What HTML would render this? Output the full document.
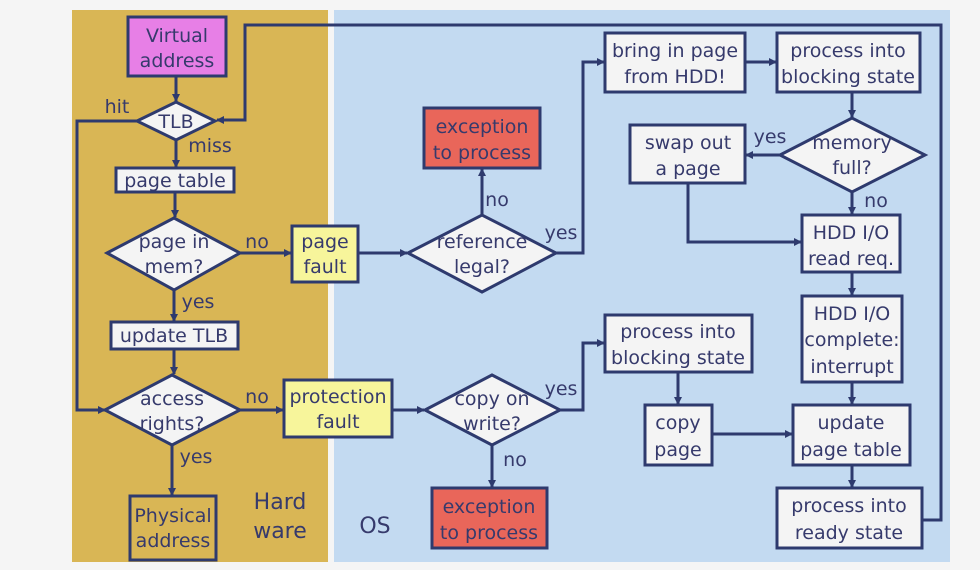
<!DOCTYPE html>
<html><head><meta charset="utf-8"><style>
html,body{margin:0;padding:0;background:#f5f5f5;}
svg{display:block}
text{font-family:"DejaVu Sans","Liberation Sans",sans-serif;fill:#363a6c;font-size:19px;text-anchor:middle}
.b{fill:#f4f4f4;stroke:#2e3a6e;stroke-width:3}
.l{fill:none;stroke:#2e3a6e;stroke-width:3}
</style></head><body>
<svg width="980" height="570" viewBox="0 0 980 570">
<defs><marker id="a" markerWidth="8" markerHeight="8" refX="7" refY="4" orient="auto" markerUnits="userSpaceOnUse"><path d="M0,0 L8,4 L0,8 z" fill="#2e3a6e"/></marker></defs>
<rect x="0" y="0" width="980" height="570" fill="#f5f5f5"/>
<rect x="72" y="10" width="256" height="552" fill="#d9b655"/>
<rect x="334" y="10" width="616" height="552" fill="#c3daf1"/>
<path class="l" d="M922,520 H941 V25 H245 V120 H217" marker-end="url(#a)"/>
<path class="l" d="M137,121 H77 V410 H105" marker-end="url(#a)"/>
<path class="l" d="M176,76 V101" marker-end="url(#a)"/>
<path class="l" d="M176,140 V167" marker-end="url(#a)"/>
<path class="l" d="M175,192 V217" marker-end="url(#a)"/>
<path class="l" d="M174,290 V321" marker-end="url(#a)"/>
<path class="l" d="M174,349 V374" marker-end="url(#a)"/>
<path class="l" d="M172,445 V495" marker-end="url(#a)"/>
<path class="l" d="M240,253 H291" marker-end="url(#a)"/>
<path class="l" d="M240,410 H283" marker-end="url(#a)"/>
<path class="l" d="M358,253 H407" marker-end="url(#a)"/>
<path class="l" d="M392,410 H424" marker-end="url(#a)"/>
<path class="l" d="M482,215 V169" marker-end="url(#a)"/>
<path class="l" d="M556,253 H583 V62 H604" marker-end="url(#a)"/>
<path class="l" d="M560,410 H583 V343 H604" marker-end="url(#a)"/>
<path class="l" d="M492,445 V487" marker-end="url(#a)"/>
<path class="l" d="M745,62 H776" marker-end="url(#a)"/>
<path class="l" d="M852,92 V117" marker-end="url(#a)"/>
<path class="l" d="M780,155 H746" marker-end="url(#a)"/>
<path class="l" d="M688,183 V242 H801" marker-end="url(#a)"/>
<path class="l" d="M852,192 V214" marker-end="url(#a)"/>
<path class="l" d="M852,272 V295" marker-end="url(#a)"/>
<path class="l" d="M852,382 V404" marker-end="url(#a)"/>
<path class="l" d="M678,372 V404" marker-end="url(#a)"/>
<path class="l" d="M712,434 H792" marker-end="url(#a)"/>
<path class="l" d="M852,465 V487" marker-end="url(#a)"/>
<rect x="128" y="17" width="98" height="59" fill="#e77fe6" stroke="#2e3a6e" stroke-width="3"/>
<text x="177" y="42">Virtual</text><text x="177" y="67">address</text>
<polygon class="b" points="137,121 176,102 215,121 176,140"/>
<text x="176" y="128">TLB</text>
<rect class="b" x="116" y="168" width="118" height="24"/>
<text x="175" y="187">page table</text>
<polygon class="b" points="107,253 174,218 240,253 174,290"/>
<text x="174" y="248">page in</text><text x="174" y="273">mem?</text>
<rect class="b" x="111" y="322" width="127" height="27"/>
<text x="174" y="342">update TLB</text>
<polygon class="b" points="105,410 172,375 240,410 172,445"/>
<text x="172" y="405">access</text><text x="172" y="430">rights?</text>
<rect x="130" y="496" width="86" height="64" fill="#d9b655" stroke="#2e3a6e" stroke-width="3"/>
<text x="173" y="522">Physical</text><text x="173" y="547">address</text>
<rect x="292" y="226" width="66" height="56" fill="#f7f59b" stroke="#2e3a6e" stroke-width="3"/>
<text x="325" y="248">page</text><text x="325" y="273">fault</text>
<rect x="284" y="380" width="108" height="57" fill="#f7f59b" stroke="#2e3a6e" stroke-width="3"/>
<text x="338" y="403">protection</text><text x="338" y="428">fault</text>
<polygon class="b" points="408,253 482,215 556,253 482,292"/>
<text x="482" y="248">reference</text><text x="482" y="273">legal?</text>
<rect x="424" y="108" width="116" height="60" fill="#e9665a" stroke="#2e3a6e" stroke-width="3"/>
<text x="482" y="133">exception</text><text x="482" y="159">to process</text>
<polygon class="b" points="425,410 492,375 560,410 492,445"/>
<text x="492" y="405">copy on</text><text x="492" y="430">write?</text>
<rect x="432" y="488" width="115" height="60" fill="#e9665a" stroke="#2e3a6e" stroke-width="3"/>
<text x="489" y="513">exception</text><text x="489" y="539">to process</text>
<rect class="b" x="605" y="33" width="140" height="59"/>
<text x="675" y="57">bring in page</text><text x="675" y="83">from HDD!</text>
<rect class="b" x="777" y="33" width="143" height="59"/>
<text x="848" y="57">process into</text><text x="848" y="83">blocking state</text>
<rect class="b" x="630" y="125" width="115" height="58"/>
<text x="688" y="149">swap out</text><text x="688" y="175">a page</text>
<polygon class="b" points="780,155 852,118 925,155 852,192"/>
<text x="852" y="149">memory</text><text x="852" y="174">full?</text>
<rect class="b" x="802" y="215" width="98" height="57"/>
<text x="851" y="239">HDD I/O</text><text x="851" y="265">read req.</text>
<rect class="b" x="802" y="296" width="100" height="86"/>
<text x="852" y="320">HDD I/O</text><text x="852" y="346">complete:</text><text x="852" y="373">interrupt</text>
<rect class="b" x="605" y="315" width="147" height="57"/>
<text x="678" y="338">process into</text><text x="678" y="364">blocking state</text>
<rect class="b" x="645" y="405" width="67" height="60"/>
<text x="678" y="429">copy</text><text x="678" y="456">page</text>
<rect class="b" x="793" y="405" width="117" height="60"/>
<text x="851" y="429">update</text><text x="851" y="456">page table</text>
<rect class="b" x="777" y="488" width="145" height="60"/>
<text x="849" y="512">process into</text><text x="849" y="539">ready state</text>
<text x="117" y="113">hit</text><text x="210" y="152">miss</text>
<text x="257" y="248">no</text><text x="198" y="308">yes</text>
<text x="257" y="403">no</text><text x="196" y="463">yes</text>
<text x="497" y="206">no</text><text x="561" y="239">yes</text>
<text x="561" y="395">yes</text><text x="515" y="466">no</text>
<text x="770" y="143">yes</text><text x="876" y="207">no</text>
<text x="280" y="509" style="font-size:22px">Hard</text>
<text x="280" y="538" style="font-size:22px">ware</text>
<text x="375" y="533" style="font-size:22px">OS</text>
</svg>
</body></html>
